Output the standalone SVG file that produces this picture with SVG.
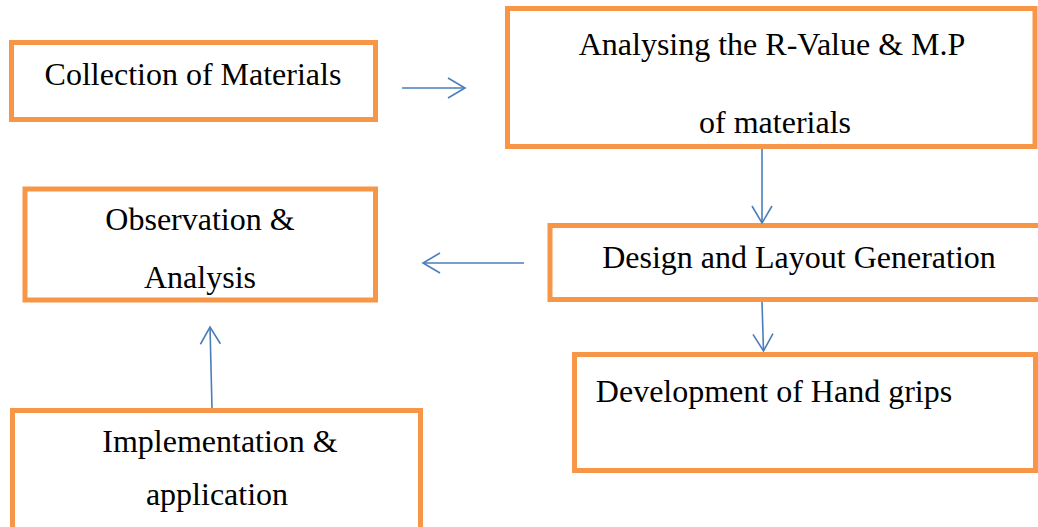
<svg xmlns="http://www.w3.org/2000/svg" width="1038" height="527" viewBox="0 0 1038 527">
  <style>
    .box { fill: #FFFFFF; stroke: #F79646; stroke-width: 5; }
    .lbl { font-family: "Liberation Serif", "Times New Roman", serif; font-size: 32px; fill: #000000; text-anchor: middle; }
    .conn { stroke: #4A7EBB; stroke-width: 1.6; fill: none; marker-end: url(#arrow); }
  </style>
  <defs>
    <marker id="arrow" markerUnits="userSpaceOnUse" viewBox="-20 -12 22 24" refX="0" refY="0" markerWidth="22" markerHeight="24" orient="auto" overflow="visible">
      <path d="M-17,-10 L0,0 L-17,10" fill="none" stroke="#4A7EBB" stroke-width="1.6"/>
    </marker>
  </defs>
  <rect x="0" y="0" width="1038" height="527" fill="#FFFFFF"/>

  <g id="node-collection">
    <rect class="box" x="11.5" y="42.5" width="364" height="77"/>
    <text class="lbl" x="193" y="85">Collection of Materials</text>
  </g>

  <g id="node-analysing">
    <rect class="box" x="507.5" y="8.5" width="527.5" height="138"/>
    <text class="lbl" x="772" y="55">Analysing the R-Value &amp; M.P</text>
    <text class="lbl" x="775" y="133">of materials</text>
  </g>

  <g id="node-design">
    <rect class="box" x="550" y="225.5" width="500" height="74"/>
    <text class="lbl" x="799" y="268">Design and Layout Generation</text>
  </g>

  <g id="node-development">
    <rect class="box" x="574.5" y="354.5" width="461" height="116"/>
    <text class="lbl" x="774" y="402">Development of Hand grips</text>
  </g>

  <g id="node-observation">
    <rect class="box" x="25" y="189" width="350.5" height="111"/>
    <text class="lbl" x="200" y="230">Observation &amp;</text>
    <text class="lbl" x="200" y="288">Analysis</text>
  </g>

  <g id="node-implementation">
    <rect class="box" x="12.5" y="410.5" width="408" height="130"/>
    <text class="lbl" x="220" y="452">Implementation &amp;</text>
    <text class="lbl" x="217" y="505">application</text>
  </g>

  <g id="connectors">
    <line class="conn" x1="402" y1="88" x2="465" y2="88"/>
    <line class="conn" x1="762" y1="149" x2="762" y2="223"/>
    <line class="conn" x1="762" y1="302" x2="763.5" y2="351"/>
    <line class="conn" x1="524" y1="263" x2="423" y2="263"/>
    <line class="conn" x1="212" y1="408" x2="210" y2="327"/>
  </g>
</svg>
